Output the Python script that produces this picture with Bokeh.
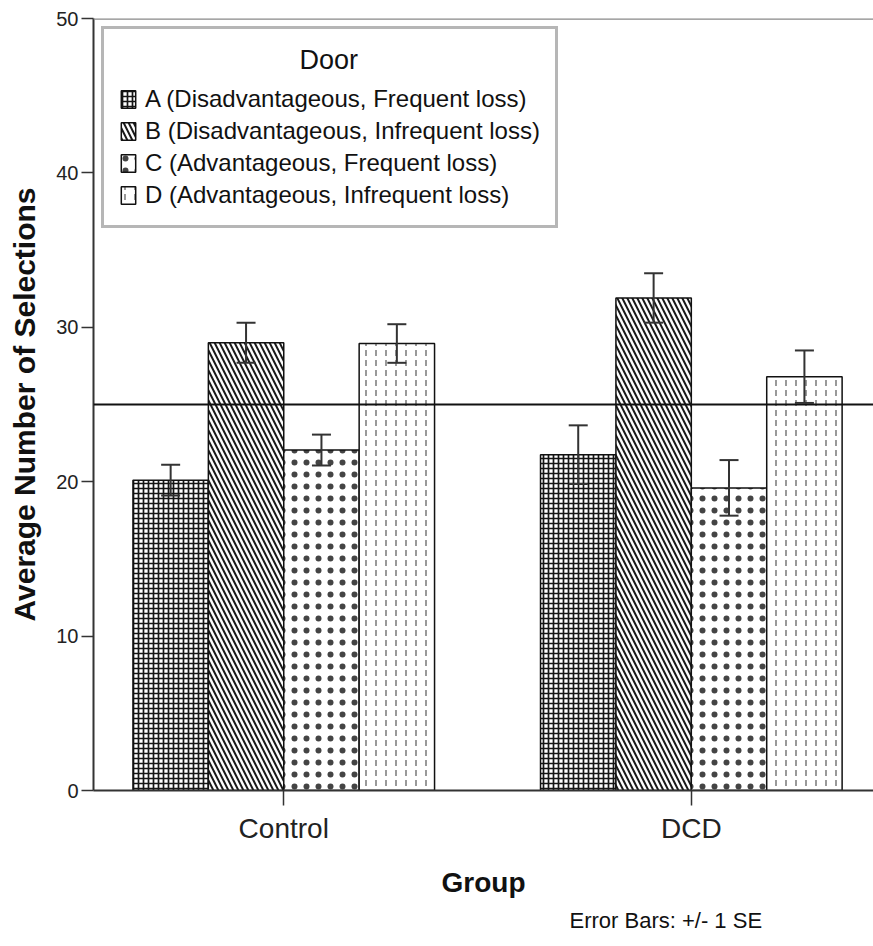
from bokeh.plotting import figure
from bokeh.models import (ColumnDataSource, Whisker, Span, Legend, LegendItem,
                          FixedTicker, Range1d, Title, TeeHead)
from bokeh.core.properties import value
from bokeh.embed import file_html
from bokeh.resources import INLINE

# ---------------- data ----------------
groups = ["Control", "DCD"]
doors = ["A (Disadvantageous, Frequent loss)",
         "B (Disadvantageous, Infrequent loss)",
         "C (Advantageous, Frequent loss)",
         "D (Advantageous, Infrequent loss)"]
means_A = [20.1, 21.75]
means_B = [29.0, 31.9]
means_C = [22.05, 19.6]
means_D = [28.95, 26.8]
se_A = [1.0, 1.9]
se_B = [1.3, 1.6]
se_C = [1.0, 1.8]
se_D = [1.25, 1.7]
y_ticks = [0, 10, 20, 30, 40, 50]
chance_level = 25
legend_title = "Door"
footnote = "Error Bars: +/- 1 SE"

FONT = "Liberation Sans"
bar_w = 0.185
X0, X1 = -0.4668, 1.447

p = figure(width=873, height=946, output_backend="svg", toolbar_location=None,
           x_range=Range1d(X0, X1), y_range=Range1d(0, 50),
           min_border_left=93, min_border_right=0, min_border_top=18,
           min_border_bottom=156)
p.outline_line_color = None
p.grid.visible = False
p.background_fill_color = "white"

styles = [
    dict(hatch_pattern="+", hatch_scale=5, hatch_weight=1.7, hatch_color="#151515"),
    dict(hatch_pattern="\\", hatch_scale=10, hatch_weight=2.0, hatch_color="#1a1a1a"),
    dict(hatch_pattern=".", hatch_scale=12, hatch_weight=1.0, hatch_color="#444444"),
    dict(hatch_pattern=":", hatch_scale=10, hatch_weight=1.2, hatch_color="#555555"),
]

all_means = [means_A, means_B, means_C, means_D]
all_se = [se_A, se_B, se_C, se_D]

items = []
wx, wl, wu = [], [], []
for i, (door, m, s) in enumerate(zip(doors, all_means, all_se)):
    xs = [g + (i - 1.5) * bar_w for g in range(len(groups))]
    src = ColumnDataSource(dict(x=xs, top=m))
    r = p.vbar(x="x", top="top", width=bar_w, source=src, fill_color="white",
               line_color="#111111", line_width=1.5, **styles[i])
    items.append(LegendItem(label=door, renderers=[r]))
    wx += xs
    wl += [a - b for a, b in zip(m, s)]
    wu += [a + b for a, b in zip(m, s)]

p.add_layout(Span(location=chance_level, dimension="width", line_color="#111111",
                  line_width=2))
p.add_layout(Span(location=50, dimension="width", line_color="#888888",
                  line_width=2.5))

wsrc = ColumnDataSource(dict(base=wx, lower=wl, upper=wu))
p.add_layout(Whisker(base="base", lower="lower", upper="upper", source=wsrc,
                     level="annotation",
                     line_color="#333333", line_width=2,
                     upper_head=TeeHead(size=19, line_color="#333333", line_width=2),
                     lower_head=TeeHead(size=19, line_color="#333333", line_width=2)))

# axes
ya = p.yaxis[0]
ya.ticker = FixedTicker(ticks=y_ticks)
ya.major_tick_out = 12
ya.major_tick_in = 0
ya.minor_tick_line_color = None
ya.axis_line_width = 2
ya.axis_line_color = "#333333"
ya.major_tick_line_color = "#333333"
ya.major_tick_line_width = 1.5
ya.major_label_text_font = FONT
ya.major_label_text_font_size = "20px"
ya.major_label_text_color = "#222222"
ya.major_label_standoff = 3
ya.axis_label = "Average Number of Selections"
ya.axis_label_text_font = FONT
ya.axis_label_text_font_style = "bold"
ya.axis_label_text_font_size = "30px"
ya.axis_label_text_color = "#111111"
ya.axis_label_standoff = 12

xa = p.xaxis[0]
xa.ticker = FixedTicker(ticks=list(range(len(groups))))
xa.major_label_overrides = {i: g for i, g in enumerate(groups)}
xa.major_tick_out = 15
xa.major_tick_in = 0
xa.minor_tick_line_color = None
xa.axis_line_width = 2
xa.axis_line_color = "#333333"
xa.major_tick_line_color = "#333333"
xa.major_tick_line_width = 1.5
xa.major_label_text_font = FONT
xa.major_label_text_font_size = "28px"
xa.major_label_text_color = "#222222"
xa.major_label_standoff = 7
xa.axis_label = "Group"
xa.axis_label_text_font = FONT
xa.axis_label_text_font_style = "bold"
xa.axis_label_text_font_size = "28px"
xa.axis_label_text_color = "#111111"
xa.axis_label_standoff = 20

legend = Legend(items=items, title=" ", location="top_left", margin=8,
                label_text_font=FONT, label_text_font_size="24px",
                label_text_color="#111111",
                title_text_font=FONT, title_text_font_size="27px",
                title_text_font_style="normal", title_text_color="#111111",
                glyph_width=18, glyph_height=22, label_height=30, spacing=2,
                padding=15, label_standoff=8, title_standoff=9,
                border_line_color="#6e6e6e", border_line_width=3,
                background_fill_alpha=0)
p.add_layout(legend)

# legend heading, centred over the legend box
p.text(x=[X0 + (329 - 94) / 779 * (X1 - X0)], y=[47.3], text=[legend_title],
       text_align="center", text_baseline="middle",
       text_font=value(FONT), text_font_size="27px", text_color="#111111")

p.add_layout(Title(text=footnote, align="left", offset=476, text_font=FONT,
                   text_font_size="22px", text_font_style="normal",
                   text_color="#111111"), "below")

open("out.html", "w").write(file_html(p, INLINE))
